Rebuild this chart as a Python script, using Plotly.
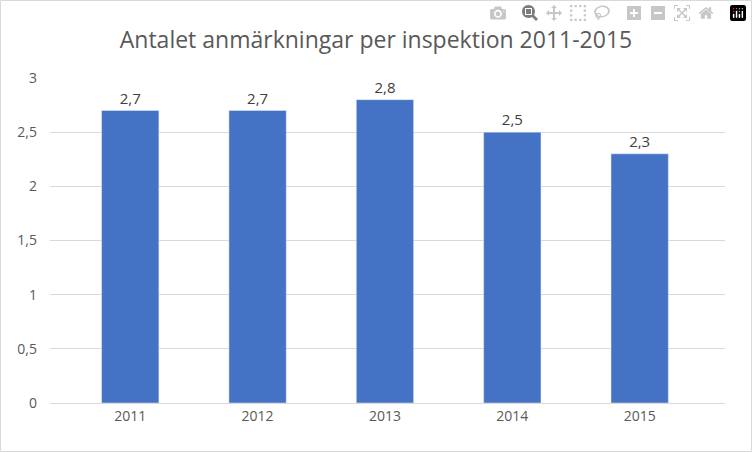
import plotly.graph_objects as go

years = ["2011", "2012", "2013", "2014", "2015"]
values = [2.7, 2.7, 2.8, 2.5, 2.3]
labels = ["2,7", "2,7", "2,8", "2,5", "2,3"]
yticks = [0, 0.5, 1, 1.5, 2, 2.5, 3]
ytext = ["0", "0,5", "1", "1,5", "2", "2,5", "3"]

fig = go.Figure(go.Bar(
    x=list(range(len(years))), y=values, text=labels, textposition="outside",
    textfont=dict(size=15, color="#404040"), marker_color="#4472C4", width=0.45,
    cliponaxis=False))

L, R, T, B = 50, 27, 78, 49
W, H = 752, 452
pw, ph = W - L - R, H - T - B
fig.update_layout(
    width=W, height=H, margin=dict(l=L, r=R, t=T, b=B),
    paper_bgcolor="white", plot_bgcolor="white",
    font=dict(family="Open Sans, Liberation Sans, sans-serif", color="#595959", size=14),
    title=dict(text="Antalet anmärkningar per inspektion 2011-2015", x=0.5, xanchor="center",
               y=1 - 40 / H, yanchor="middle", font=dict(size=23, color="#595959")),
    xaxis=dict(range=[-0.63, 4.67], tickvals=list(range(5)), ticktext=years,
               showline=True, linecolor="#D9D9D9", showgrid=False, zeroline=False,
               tickfont=dict(size=14, color="#595959")),
    yaxis=dict(range=[0, 3], tickvals=yticks, ticktext=ytext, gridcolor="#D9D9D9",
               zeroline=False, showline=False, ticks="", ticklabelstandoff=12,
               tickfont=dict(size=14, color="#595959")),
    showlegend=False,
    shapes=[dict(type="rect", xref="paper", yref="paper",
                 x0=-L / pw + 0.5 / pw, x1=1 + R / pw - 0.5 / pw,
                 y0=-B / ph + 0.5 / ph, y1=1 + T / ph - 0.5 / ph,
                 line=dict(color="#D9D9D9", width=1))],
)
fig.write_html("out.html", post_script="document.body.style.margin='0';document.body.style.overflow='hidden';")
